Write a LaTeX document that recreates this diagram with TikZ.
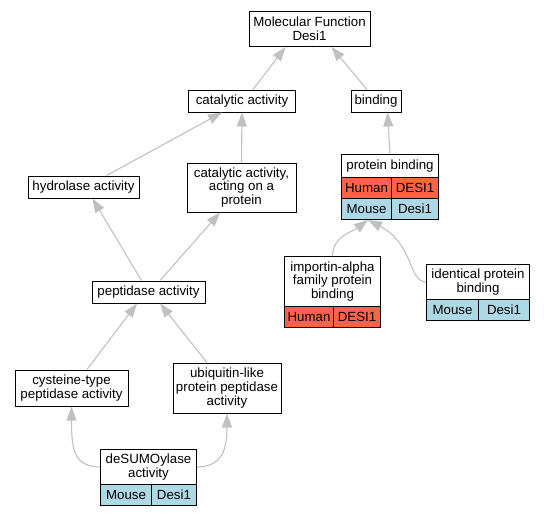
\documentclass[tikz,border=0pt]{standalone}
\usepackage{fontspec}
\setmainfont{Liberation Sans}
\usepackage{tikz}
\usetikzlibrary{arrows.meta}
\definecolor{humanred}{HTML}{FF6347}
\definecolor{mouseblue}{HTML}{ADD8E6}
\definecolor{edgegray}{HTML}{C0C0C0}

\begin{document}
\begin{tikzpicture}[x=1pt, y=-1pt,
    every node/.style={font=\fontsize{13.3}{13.8}\selectfont, inner sep=0pt, align=center},
    term/.style={draw=black, line width=1pt, fill=white},
    human/.style={term, fill=humanred, minimum height=21},
    mouse/.style={term, fill=mouseblue, minimum height=21},
    isa/.style={draw=edgegray, line width=1.1pt, -{Triangle[length=14pt,width=10pt]}}]
    \useasboundingbox (0,0) rectangle (544,517);
    \node[term, minimum width=121, minimum height=35] (mf) at (309.5,29) {Molecular Function\\Desi1};
    \node[term, minimum width=107, minimum height=22] (cat) at (242,101) {catalytic activity};
    \node[term, minimum width=50, minimum height=22] (bind) at (376,101) {binding};
    \node[term, minimum width=111, minimum height=22] (hyd) at (83.5,187) {hydrolase activity};
    \node[term, minimum width=109, minimum height=49] (catp) at (241.5,187.5) {catalytic activity,\\acting on a\\protein};
    \node[term, minimum width=97, minimum height=23, anchor=north west] (pb) at (341,154) {protein binding};
    \node[human, minimum width=50, anchor=north west] (pbh1) at (341,177) {Human};
    \node[human, minimum width=47, anchor=north west] (pbh2) at (391,177) {DESI1};
    \node[mouse, minimum width=50, anchor=north west] (pbm1) at (341,198) {Mouse};
    \node[mouse, minimum width=47, anchor=north west] (pbm2) at (391,198) {Desi1};
    \node[term, minimum width=113, minimum height=22] (pept) at (148.5,292) {peptidase activity};
    \node[term, minimum width=96, minimum height=50, anchor=north west] (imp) at (284,256) {importin-alpha\\family protein\\binding};
    \node[human, minimum width=49, anchor=north west] (imph1) at (284,306) {Human};
    \node[human, minimum width=47, anchor=north west] (imph2) at (333,306) {DESI1};
    \node[term, minimum width=103, minimum height=35, anchor=north west] (ident) at (426,264) {identical protein\\binding};
    \node[mouse, minimum width=52, anchor=north west] (identm1) at (426,299) {Mouse};
    \node[mouse, minimum width=51, anchor=north west] (identm2) at (478,299) {Desi1};
    \node[term, minimum width=113, minimum height=36] (cyst) at (71.5,388) {cysteine-type\\peptidase activity};
    \node[term, minimum width=108, minimum height=50] (ubiq) at (227,388) {ubiquitin-like\\protein peptidase\\activity};
    \node[term, minimum width=96, minimum height=35, anchor=north west] (ds) at (100,449) {deSUMOylase\\activity};
    \node[mouse, minimum width=51, anchor=north west] (dsm1) at (100,484) {Mouse};
    \node[mouse, minimum width=45, anchor=north west] (dsm2) at (151,484) {Desi1};
    \coordinate (pbin) at (368,220);
    % is_a edges, child to parent
    \draw[isa] ([xshift=11]cat.north) -- ([xshift=-24]mf.south);
    \draw[isa] ([xshift=-9]bind.north) -- ([xshift=22]mf.south);
    \draw[isa] ([xshift=23]hyd.north) -- ([xshift=-20]cat.south);
    \draw[isa] (catp.north) -- (cat.south);
    \draw[isa] (pb.north) -- (bind.-45);
    \draw[isa] ([xshift=-7]pept.north) -- ([xshift=9]hyd.south);
    \draw[isa] ([xshift=11.5]pept.north) -- ([xshift=-21.5]catp.south);
    \draw[isa] ([xshift=15.5]cyst.north) -- ([xshift=-11.5]pept.south);
    \draw[isa] ([xshift=-20]ubiq.north) -- ([xshift=11.5]pept.south);
    \draw[isa] (imp.north) .. controls (333,236) and (352,232) .. (pbin);
    \draw[isa] (ident.west) .. controls (408,281) and (414,244) .. (pbin);
    \draw[isa] (ds.west) .. controls (74,466.5) and (71.5,450) .. (cyst.south);
    \draw[isa] (ds.east) .. controls (222,466.5) and (227,450) .. (ubiq.south);
\end{tikzpicture}
\end{document}
